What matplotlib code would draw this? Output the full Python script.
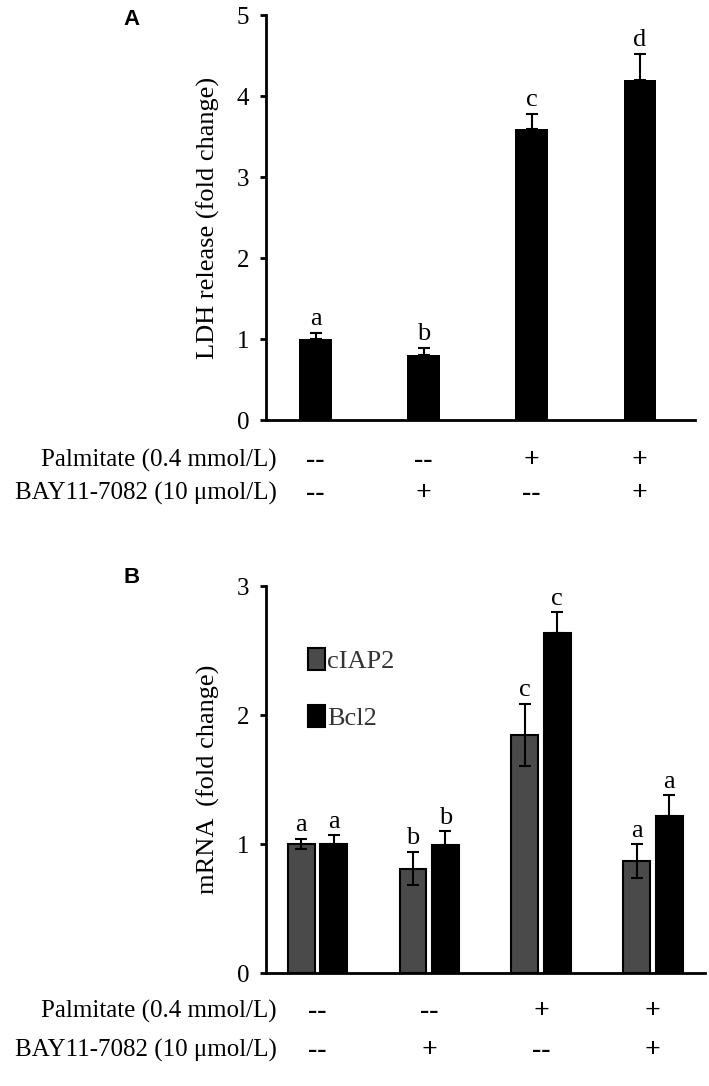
import matplotlib.pyplot as plt
import numpy as np
import matplotlib.transforms as mtransforms

plt.rcParams['font.family'] = ['Liberation Serif', 'DejaVu Serif']

# panel A
ldh = [1.0, 0.8, 3.6, 4.2]
ldh_err = [0.08, 0.09, 0.18, 0.32]
ldh_letters = ['a', 'b', 'c', 'd']

# panel B
ciap2 = [1.0, 0.81, 1.85, 0.87]
ciap2_err = [0.04, 0.13, 0.24, 0.13]
ciap2_letters = ['a', 'b', 'c', 'a']
bcl2 = [1.0, 0.99, 2.64, 1.22]
bcl2_err = [0.07, 0.11, 0.16, 0.16]
bcl2_letters = ['a', 'b', 'c', 'a']

palmitate = ['--', '--', '+', '+']
bay = ['--', '+', '--', '+']
row_names = ['Palmitate (0.4 mmol/L)', 'BAY11-7082 (10 \u03bcmol/L)']

FS = 18

fig = plt.figure(figsize=(7.09, 10.86), dpi=100)
axA = fig.add_axes([0.375, 0.613, 0.605, 0.373])
axB = fig.add_axes([0.375, 0.104, 0.62, 0.356])

x = np.arange(4)

def style(ax, top):
    for s in ['top', 'right']:
        ax.spines[s].set_visible(False)
    ax.spines['left'].set_linewidth(2)
    ax.spines['bottom'].set_linewidth(2)
    ax.tick_params(axis='y', direction='out', length=4, width=2, labelsize=FS, pad=8)
    ax.tick_params(axis='x', length=0, labelbottom=False)
    ax.set_yticks(range(top + 1))
    ax.set_ylim(0, top)

def rows(ax, y1, y2):
    tr = mtransforms.blended_transform_factory(ax.transData, ax.transAxes)
    for i in range(4):
        ax.text(x[i], y1, palmitate[i], transform=tr, ha='center', va='center', fontsize=FS + 2, fontweight='bold')
        ax.text(x[i], y2, bay[i], transform=tr, ha='center', va='center', fontsize=FS + 2, fontweight='bold')
    ax.text(-0.36, y1, row_names[0], transform=tr, ha='right', va='center', fontsize=FS)
    ax.text(-0.36, y2, row_names[1], transform=tr, ha='right', va='center', fontsize=FS)

# A
axA.bar(x, ldh, width=0.3, color='black')
axA.errorbar(x, ldh, yerr=[np.zeros(4), ldh_err], fmt='none', ecolor='black',
             elinewidth=1.5, capsize=4, capthick=1.5)
for i in range(4):
    axA.text(x[i], ldh[i] + ldh_err[i] + 0.04, ldh_letters[i], ha='center', va='bottom', fontsize=FS + 1)
style(axA, 5)
axA.set_xlim(-0.46, 3.51)
axA.set_ylabel('LDH release (fold change)', fontsize=FS + 1, labelpad=12)
rows(axA, -0.1, -0.18)
fig.text(0.185, 0.982, 'A', fontsize=16, fontweight='bold', family='Liberation Sans', ha='center', va='center')

# B
w = 0.24
off = 0.145
axB.bar(x - off, ciap2, width=w, color='#4a4a4a', edgecolor='black', linewidth=1.5, label='cIAP2')
axB.bar(x + off, bcl2, width=w, color='black', edgecolor='black', linewidth=1.5, label='Bcl2')
axB.errorbar(x - off, ciap2, yerr=ciap2_err, fmt='none', ecolor='black',
             elinewidth=1.5, capsize=4, capthick=1.5)
axB.errorbar(x + off, bcl2, yerr=[np.zeros(4), bcl2_err], fmt='none', ecolor='black',
             elinewidth=1.5, capsize=4, capthick=1.5)
for i in range(4):
    axB.text(x[i] - off, ciap2[i] + ciap2_err[i] + 0.02, ciap2_letters[i], ha='center', va='bottom', fontsize=FS + 1)
    axB.text(x[i] + off, bcl2[i] + bcl2_err[i] + 0.02, bcl2_letters[i], ha='center', va='bottom', fontsize=FS + 1)
style(axB, 3)
axB.set_xlim(-0.46, 3.47)
axB.set_ylabel('mRNA  (fold change)', fontsize=FS + 1, labelpad=12)
leg = axB.legend(loc='upper left', bbox_to_anchor=(0.065, 0.875), frameon=False, fontsize=FS + 1,
                 handlelength=0.65, handleheight=0.9, handletextpad=0.1, labelspacing=1.2, borderpad=0)
for t in leg.get_texts():
    t.set_color('#333333')
rows(axB, -0.1, -0.2)
fig.text(0.185, 0.468, 'B', fontsize=16, fontweight='bold', family='Liberation Sans', ha='center', va='center')

fig.savefig('out.png', dpi=100)
